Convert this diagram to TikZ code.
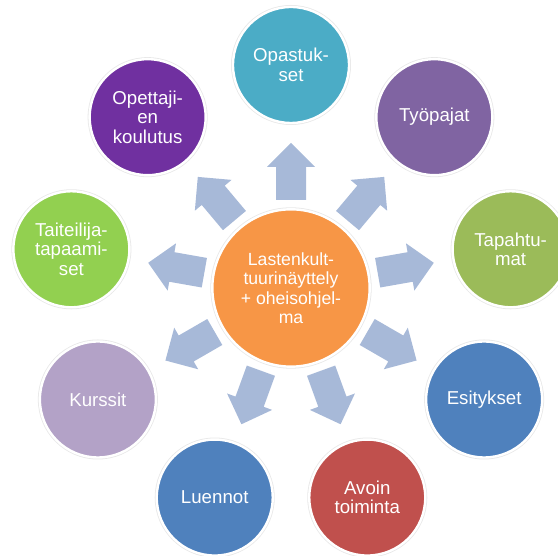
\documentclass[tikz,border=0pt]{standalone}
\usepackage{fontspec}
\setmainfont{Liberation Sans}
\usetikzlibrary{calc}

\definecolor{hubfill}{RGB}{247,150,70}
\definecolor{arrowfill}{RGB}{167,185,216}
\definecolor{tealfill}{RGB}{75,172,198}
\definecolor{violetfill}{RGB}{128,100,162}
\definecolor{olivefill}{RGB}{155,187,89}
\definecolor{bluefill}{RGB}{79,129,189}
\definecolor{redfill}{RGB}{192,80,77}
\definecolor{lilacfill}{RGB}{179,162,199}
\definecolor{limefill}{RGB}{146,208,80}
\definecolor{plumfill}{RGB}{112,48,160}

\tikzset{
    leaf/.style     = {circle, minimum size=87pt, inner sep=0pt, align=center, text=white,
                       font=\fontsize{14}{14.6}\selectfont,
                       draw=white, line width=1.8pt, preaction={draw=black!9, line width=3pt}},
    hub/.style      = {leaf, minimum size=118pt, font=\fontsize{13.2}{14.6}\selectfont},
    blockarrow/.style = {fill=arrowfill}
}

\begin{document}
\begin{tikzpicture}[x=0.75pt, y=0.75pt]
            \useasboundingbox   (0,0) rectangle (558,556);

            \coordinate (c) at (291,268);                                                % ring centre

            % outward block arrows
            \foreach \a in {90,50,10,-30,-70,-110,-150,170,130}
                \fill   [blockarrow, shift={(c)}, rotate=\a]
                        (88,-15) -- (121,-15) -- (121,-24) -- (145,0) -- (121,24) -- (121,15) -- (88,15) -- cycle;

            \node   [hub, fill=hubfill]         (hub)       at (c)                  {Lastenkult-\\tuurinäyttely\\+ oheisohjel-\\ma};

            \node   [leaf, fill=tealfill]       (opastus)   at ($(c)+(90:223)$)     {Opastuk-\\set};
            \node   [leaf, fill=violetfill]     (tyopaja)   at ($(c)+(50:223)$)     {Työpajat};
            \node   [leaf, fill=olivefill]      (tapahtuma) at ($(c)+(10:223)$)     {Tapahtu-\\mat};
            \node   [leaf, fill=bluefill]       (esitys)    at ($(c)+(-30:223)$)    {Esitykset};
            \node   [leaf, fill=redfill]        (avoin)     at ($(c)+(-70:223)$)    {Avoin\\toiminta};
            \node   [leaf, fill=bluefill]       (luento)    at ($(c)+(-110:223)$)   {Luennot};
            \node   [leaf, fill=lilacfill]      (kurssi)    at ($(c)+(-150:223)$)   {Kurssit};
            \node   [leaf, fill=limefill]       (taiteilija) at ($(c)+(170:223)$)   {Taiteilija-\\tapaami-\\set};
            \node   [leaf, fill=plumfill]       (opettaja)  at ($(c)+(130:223)$)    {Opettaji-\\en\\koulutus};
\end{tikzpicture}
\end{document}
